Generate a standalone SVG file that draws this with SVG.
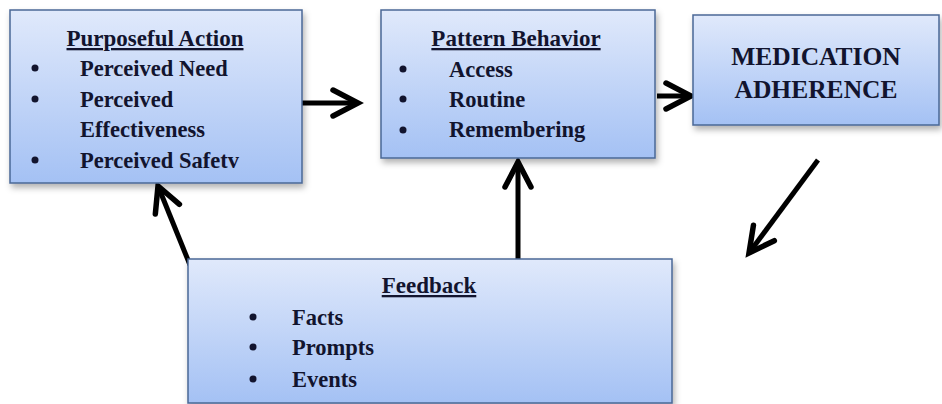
<svg xmlns="http://www.w3.org/2000/svg" width="942" height="404" viewBox="0 0 942 404">
  <style>
    .box { fill: url(#boxFill); stroke: #4a6896; stroke-width: 1.5; filter: url(#shadow); }
    .t { font-family: "Liberation Serif", "Times New Roman", serif; font-weight: bold; fill: #12142e; font-size: 22.5px; }
    .title { text-anchor: middle; text-decoration: underline; font-size: 23px; }
    .big { font-size: 25.5px; text-anchor: middle; }
    .dot { fill: #12142e; }
    .arrow { fill: none; stroke: #000; stroke-width: 5; marker-end: url(#vhead); }
  </style>
  <defs>
    <linearGradient id="boxFill" x1="0" y1="0" x2="0" y2="1">
      <stop offset="0" stop-color="#e0e9fb"/>
      <stop offset="1" stop-color="#a4c1f4"/>
    </linearGradient>
    <filter id="shadow" x="-10%" y="-10%" width="130%" height="140%">
      <feDropShadow dx="2" dy="4" stdDeviation="3" flood-color="#000" flood-opacity="0.3"/>
    </filter>
    <marker id="vhead" markerUnits="userSpaceOnUse" viewBox="-32 -18 36 36" refX="0" refY="0" markerWidth="36" markerHeight="36" orient="auto" overflow="visible">
      <path d="M -25 -13 L 0 0 L -25 13" fill="none" stroke="#000" stroke-width="5.5" stroke-linejoin="miter" stroke-linecap="round"/>
    </marker>
  </defs>

  <rect width="942" height="404" fill="#ffffff"/>

  <g id="connectors">
    <line class="arrow" x1="302" y1="103" x2="358" y2="103"/>
    <line class="arrow" x1="657" y1="96" x2="691" y2="96"/>
    <line class="arrow" x1="818" y1="160" x2="749" y2="253"/>
    <line class="arrow" x1="518" y1="259" x2="518" y2="162"/>
    <line class="arrow" x1="190" y1="265" x2="158" y2="186"/>
  </g>

  <g id="purposeful-action">
    <rect class="box" x="10" y="10" width="292" height="173"/>
    <text class="t title" x="155" y="46">Purposeful Action</text>
    <circle class="dot" cx="35" cy="68" r="3.5"/>
    <text class="t" x="80" y="76">Perceived Need</text>
    <circle class="dot" cx="35" cy="99" r="3.5"/>
    <text class="t" x="80" y="107">Perceived</text>
    <text class="t" x="80" y="137">Effectiveness</text>
    <circle class="dot" cx="35" cy="160" r="3.5"/>
    <text class="t" x="80" y="168">Perceived Safetv</text>
  </g>

  <g id="pattern-behavior">
    <rect class="box" x="381" y="10" width="274" height="148"/>
    <text class="t title" x="516" y="46">Pattern Behavior</text>
    <circle class="dot" cx="403" cy="69" r="3.5"/>
    <text class="t" x="449" y="77">Access</text>
    <circle class="dot" cx="403" cy="99" r="3.5"/>
    <text class="t" x="449" y="107">Routine</text>
    <circle class="dot" cx="403" cy="130" r="3.5"/>
    <text class="t" x="449" y="137">Remembering</text>
  </g>

  <g id="medication-adherence">
    <rect class="box" x="693" y="15" width="246" height="110"/>
    <text class="t big" x="816" y="65">MEDICATION</text>
    <text class="t big" x="816" y="98">ADHERENCE</text>
  </g>

  <g id="feedback">
    <rect class="box" x="188" y="259" width="484" height="144"/>
    <text class="t title" x="429" y="293">Feedback</text>
    <circle class="dot" cx="253" cy="317" r="3.5"/>
    <text class="t" x="292" y="325">Facts</text>
    <circle class="dot" cx="253" cy="347" r="3.5"/>
    <text class="t" x="292" y="355">Prompts</text>
    <circle class="dot" cx="253" cy="379" r="3.5"/>
    <text class="t" x="292" y="387">Events</text>
  </g>
</svg>
